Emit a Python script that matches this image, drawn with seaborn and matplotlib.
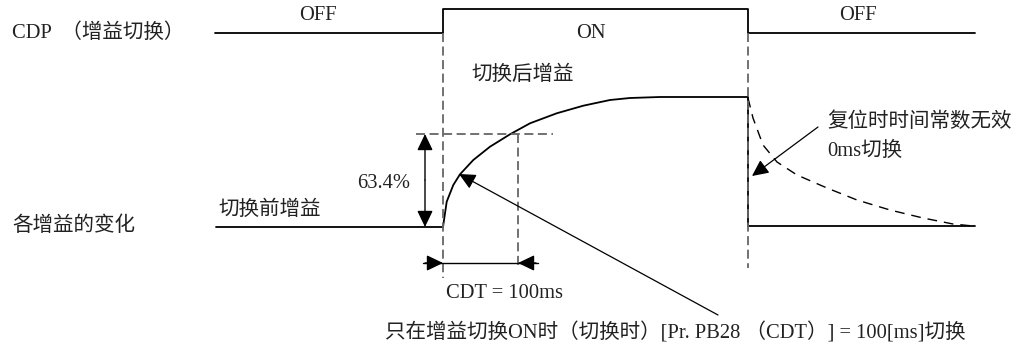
import matplotlib
matplotlib.use("Agg")
import matplotlib.pyplot as plt
import seaborn as sns

# ---- data (diagram coordinates) ----
cdp_time = [215, 443, 443, 748, 748, 975]
cdp_level = [33, 33, 9, 9, 33, 33]

gain_before_x = [216, 443]
gain_before_y = [227, 227]

gain_rise_x = [443, 446.7, 453.3, 460, 473.3, 490, 510, 530, 556.7, 583.3, 610, 630, 660, 748, 748, 975]
gain_rise_y = [227, 201.7, 185, 174.3, 160, 146.7, 134.3, 123.3, 113.3, 105.7, 100, 98, 97, 97, 226, 226]

decay_x = [748, 753, 763, 777, 797, 827, 857, 890, 923, 953, 973]
decay_y = [98, 118, 145, 162, 175, 188, 200, 210, 218, 224, 226]

state_labels = ["OFF", "ON", "OFF"]
state_label_x = [318, 591, 858]
state_label_y = [15, 33, 15]

FONT = ["Liberation Serif", "Noto Sans CJK SC", "DejaVu Sans"]

sns.set_theme(style="white")
plt.rcParams["font.family"] = FONT

fig = plt.figure(figsize=(10.31, 3.48), dpi=100)
ax = fig.add_axes([0, 0, 1, 1])
ax.set_xlim(0, 1031)
ax.set_ylim(348, 0)
ax.axis("off")

lw_solid = 1.3
dash_col = "#666666"
dash_style = (0, (5, 2.5))

sns.lineplot(x=cdp_time, y=cdp_level, sort=False, estimator=None, color="black",
             linewidth=lw_solid, ax=ax, legend=False)
sns.lineplot(x=gain_before_x, y=gain_before_y, sort=False, estimator=None, color="black",
             linewidth=lw_solid, ax=ax, legend=False)
sns.lineplot(x=gain_rise_x, y=gain_rise_y, sort=False, estimator=None, color="black",
             linewidth=lw_solid, ax=ax, legend=False)
ax.plot(decay_x, decay_y, color="black", linewidth=1.0, linestyle=(0, (7, 5)))

ax.plot([443, 443], [33, 278], color=dash_col, lw=1.3, ls=dash_style)
ax.plot([748, 748], [33, 268], color=dash_col, lw=1.3, ls=dash_style)
ax.plot([518, 518], [134, 268], color=dash_col, lw=1.3, ls=dash_style)
ax.plot([416, 553], [134, 134], color=dash_col, lw=1.3, ls=dash_style)

head = "-|>,head_length=0.5,head_width=0.24"
def arrow(tip, tail, lw=1.0):
    ax.annotate("", xy=tip, xytext=tail,
                arrowprops=dict(arrowstyle=head, color="black", lw=lw, mutation_scale=20,
                                shrinkA=0, shrinkB=0))

arrow((425, 134), (425, 180))
arrow((425, 227), (425, 180))
ax.plot([423, 538], [263, 263], color="black", lw=1.0)
arrow((443, 263), (425, 263))
arrow((518, 263), (536, 263))
arrow((459, 174), (718, 315), lw=0.9)
arrow((752, 176), (818, 127), lw=0.9)

fs = 14.8
txt = dict(color="#222222", fontsize=fs, va="center")
ax.text(12, 33, "CDP  （增益切换）", ha="left", **txt)
ax.text(12, 226, "各增益的变化", ha="left", **txt)
for lab, lx, ly in zip(state_labels, state_label_x, state_label_y):
    ax.text(lx, ly, lab, ha="center", **txt)
ax.text(471, 75, "切换后增益", ha="left", **txt)
ax.text(218, 210, "切换前增益", ha="left", **txt)
ax.text(410, 183, "63.4%", ha="right", **txt)
ax.text(446, 294, "CDT = 100ms", ha="left", **txt)
ax.text(827, 122, "复位时时间常数无效", ha="left", **txt)
ax.text(827, 151, "0ms切换", ha="left", **txt)
ax.text(385, 333, "只在增益切换ON时（切换时）[Pr. PB28 （CDT）] = 100[ms]切换", ha="left", **txt)

fig.savefig("out.png", dpi=100, facecolor="white")
